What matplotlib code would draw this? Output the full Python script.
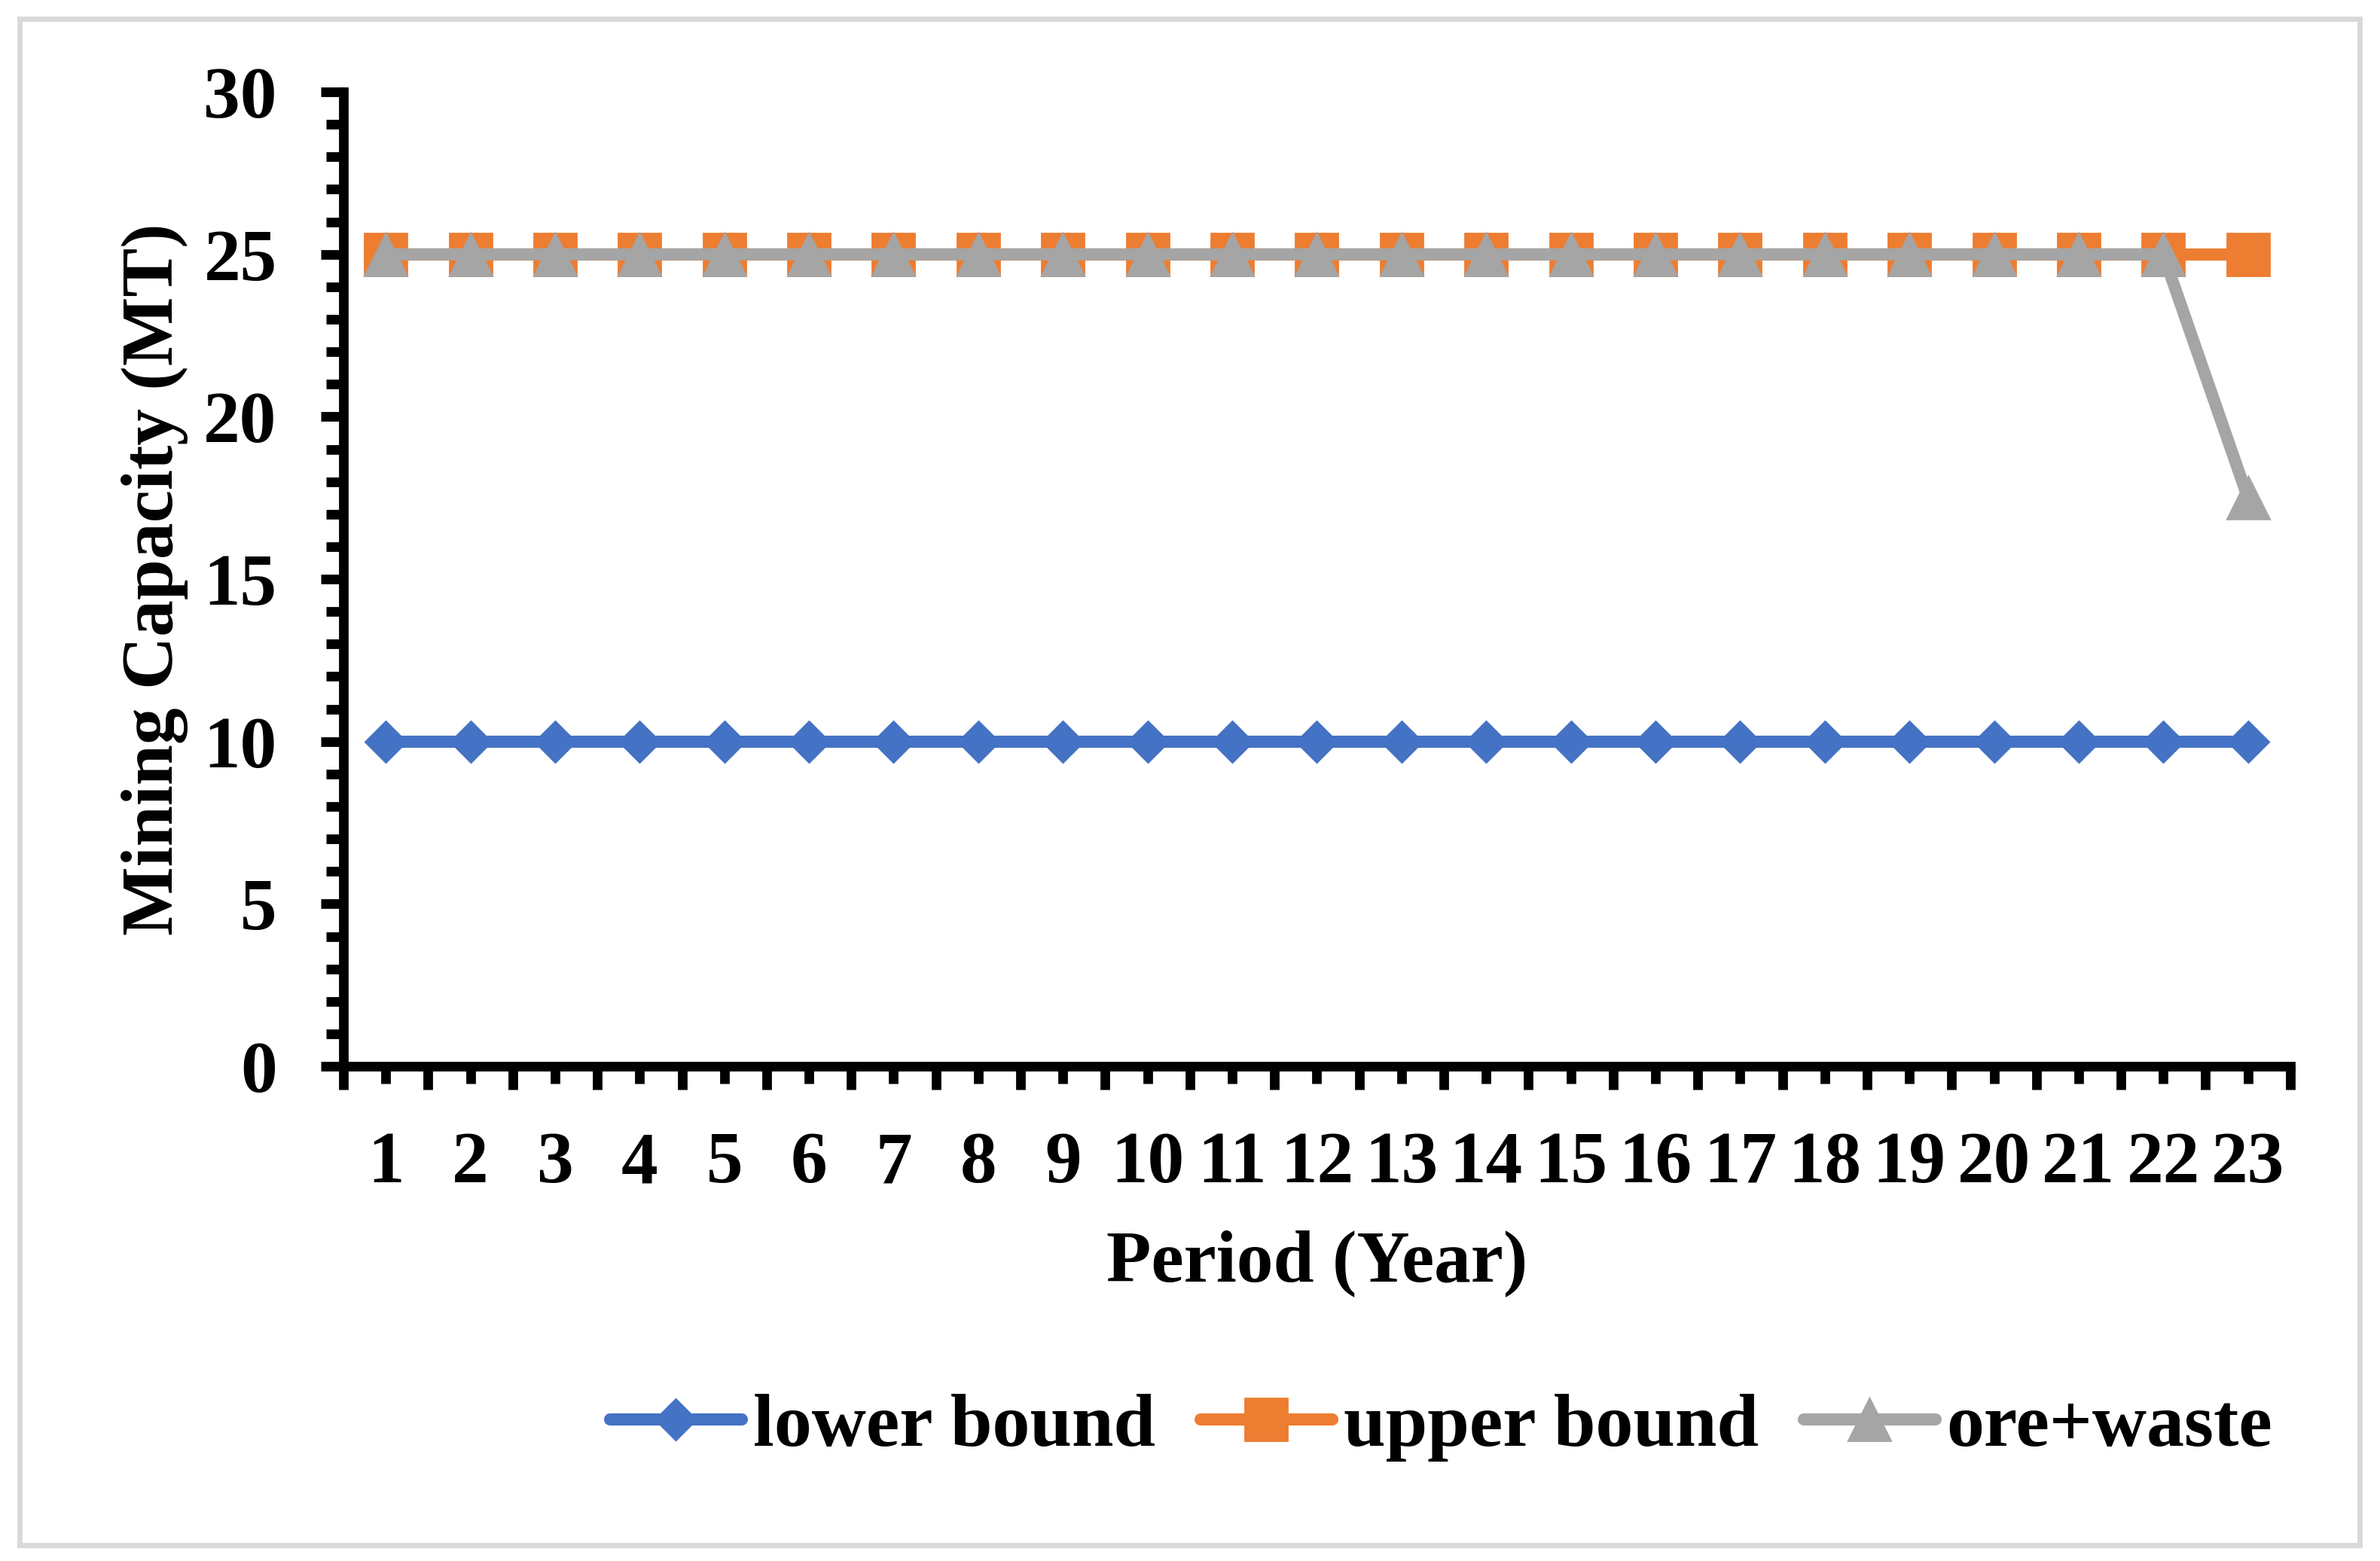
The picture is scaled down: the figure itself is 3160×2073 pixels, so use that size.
import matplotlib
matplotlib.use("Agg")
import matplotlib.pyplot as plt
from matplotlib.patches import Rectangle
from matplotlib.ticker import MultipleLocator

periods = [1, 2, 3, 4, 5, 6, 7, 8, 9, 10, 11, 12, 13, 14, 15, 16, 17, 18, 19, 20, 21, 22, 23]
lower_bound = [10, 10, 10, 10, 10, 10, 10, 10, 10, 10, 10, 10, 10, 10, 10, 10, 10, 10, 10, 10, 10, 10, 10]
upper_bound = [25, 25, 25, 25, 25, 25, 25, 25, 25, 25, 25, 25, 25, 25, 25, 25, 25, 25, 25, 25, 25, 25, 25]
ore_waste = [25, 25, 25, 25, 25, 25, 25, 25, 25, 25, 25, 25, 25, 25, 25, 25, 25, 25, 25, 25, 25, 25, 17.5]

plt.rcParams['font.family'] = ['Liberation Serif', 'DejaVu Serif']
plt.rcParams['font.weight'] = 'bold'
fs = 35

fig = plt.figure(figsize=(15.8, 10.365), dpi=200)
ax = fig.add_axes([0.1443, 0.3169, 0.8180, 0.6242])

# chart area border like excel
fig.patches.append(Rectangle((26 / 3160, 1 - 2052 / 2073), 3107 / 3160, 2027 / 2073,
                             transform=fig.transFigure, fill=False,
                             edgecolor='#D9D9D9', linewidth=2.5))

ax.plot(periods, lower_bound, color='#4472C4', marker='D', markersize=14, linewidth=5.8,
        solid_capstyle='round', label='lower bound', clip_on=False, zorder=3)
ax.plot(periods, upper_bound, color='#ED7D31', marker='s', markersize=20, linewidth=5.8,
        solid_capstyle='round', label='upper bound', clip_on=False, zorder=4)
ax.plot(periods, ore_waste, color='#A5A5A5', marker='^', markersize=20, linewidth=5.8,
        solid_capstyle='round', label='ore+waste', clip_on=False, zorder=5)

ax.set_xlim(0.5, 23.5)
ax.set_ylim(0, 30)

for side in ['top', 'right']:
    ax.spines[side].set_visible(False)
ax.spines['left'].set_linewidth(4.6)
ax.spines['bottom'].set_linewidth(4.6)

ax.set_xticks(periods)
ax.set_xticklabels([str(p) for p in periods])
ax.xaxis.set_minor_locator(MultipleLocator(1, offset=0.5))
ax.yaxis.set_major_locator(MultipleLocator(5))
ax.yaxis.set_minor_locator(MultipleLocator(1))

ax.tick_params(axis='x', which='major', direction='out', length=8.3, width=4.6,
               pad=22.7, labelsize=fs)
ax.tick_params(axis='x', which='minor', direction='out', length=11.2, width=4.6)
ax.tick_params(axis='y', which='major', direction='out', length=10.8, width=4.6,
               pad=21, labelsize=fs)
ax.tick_params(axis='y', which='minor', direction='out', length=8.3, width=4.6)
for lab in ax.get_xticklabels() + ax.get_yticklabels():
    lab.set_fontweight('bold')

ax.set_xlabel('Period (Year)', fontsize=fs, fontweight='bold')
ax.set_ylabel('Mining Capacity (MT)', fontsize=fs, fontweight='bold')
ax.xaxis.set_label_coords(0.5, -0.1677)
ax.yaxis.set_label_coords(-0.0797, 0.5)

fig.legend(loc='center', bbox_to_anchor=(0.6055, 0.0854), ncol=3, frameon=False,
           numpoints=1, handlelength=1.75, handletextpad=0.15, columnspacing=0.6,
           borderpad=0, prop={'size': 36, 'weight': 'bold'})

fig.savefig('out.png', dpi=200, facecolor='white')
